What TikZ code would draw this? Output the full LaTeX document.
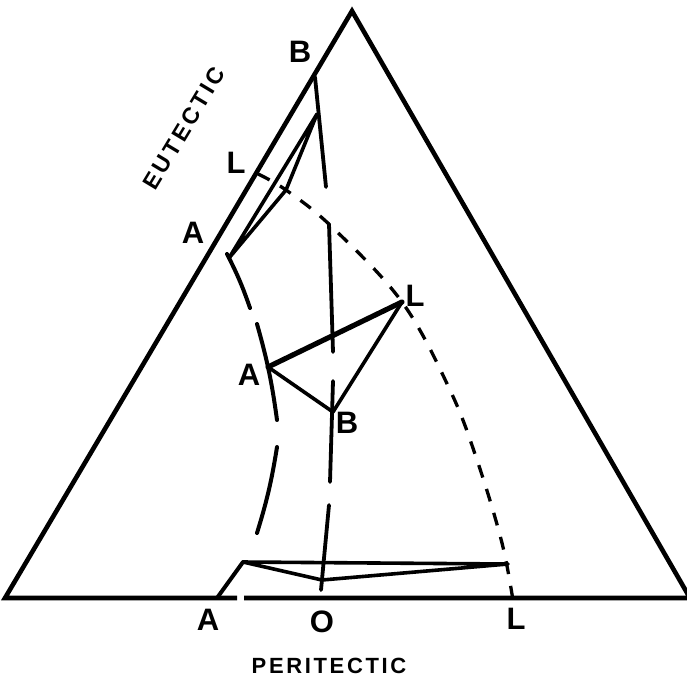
\documentclass[tikz,border=0pt]{standalone}
\usepackage{fontspec}
\setmainfont{Liberation Sans}
\usetikzlibrary{calc}
\tikzset{
  outline/.style={line width=4.6pt, line join=miter, draw=black},
  tieline/.style={line width=3.6pt, line cap=round, line join=round, draw=black},
  heavytie/.style={tieline, line width=5.2pt},
  acurve/.style={line width=4pt, line cap=round, draw=black},
  bcurve/.style={line width=3.8pt, line cap=round, draw=black},
  lcurve/.style={line width=3.3pt, dash pattern=on 13pt off 12pt, draw=black},
  ptlabel/.style={font=\bfseries\fontsize{31}{31}\selectfont, inner sep=0pt},
  edgelabel/.style={font=\bfseries\fontsize{22}{22}\selectfont, inner sep=0pt},
}

\begin{document}
\begin{tikzpicture}[x=1pt, y=-1pt]
  \useasboundingbox (0,0) rectangle (687,678);

  % ----------------------------------------------------------------
  % Ternary triangle (small gap in the base near A)
  % ----------------------------------------------------------------
  \coordinate (apex)     at (352,11);
  \coordinate (corner-l) at (5,598);
  \coordinate (corner-r) at (690,598);
  \coordinate (gap-l)    at (237,598);
  \coordinate (gap-r)    at (244,598);
  \draw[outline] (gap-r) -- (corner-r) -- (apex) -- (corner-l) -- (gap-l);

  % ----------------------------------------------------------------
  % Tie triangles
  % ----------------------------------------------------------------
  \coordinate (top-b) at (317,114);
  \coordinate (top-l) at (286,190);
  \coordinate (top-a) at (229,258);
  \draw[tieline] (top-b) -- (top-a) -- (top-l) -- cycle;

  \coordinate (mid-a) at (268,367);
  \coordinate (mid-l) at (402,302);
  \coordinate (mid-b) at (333,412);
  \draw[heavytie] (mid-a) -- (mid-l);
  \draw[tieline] (mid-l) -- (mid-b) -- (mid-a);

  \coordinate (bot-a) at (243,562);
  \coordinate (bot-l) at (508,564);
  \coordinate (bot-o) at (322,580);
  \draw[tieline] (bot-a) -- (bot-l) -- (bot-o) -- cycle;

  % ----------------------------------------------------------------
  % A path (long dashes, drawn piece by piece)
  % ----------------------------------------------------------------
  \coordinate (base-a) at (217,598);
  \draw[acurve] (227,254) to[bend left=4] (250,308);
  \draw[acurve] (257,324) to[bend left=4] (277,420);
  \draw[acurve] (277,447) to[bend left=4] (257,533);
  \draw[acurve] (bot-a) -- (base-a);

  % ----------------------------------------------------------------
  % B / O path (long dashes)
  % ----------------------------------------------------------------
  \coordinate (edge-b) at (315,77);
  \coordinate (base-o) at (321,590);
  \draw[bcurve] (edge-b) -- (326,187);
  \draw[bcurve] (329,224) -- (333,352);
  \draw[bcurve] (333,381) -- (330,482);
  \draw[bcurve] (329,505) -- (base-o);

  % ----------------------------------------------------------------
  % L path (short dashes)
  % ----------------------------------------------------------------
  \coordinate (edge-l) at (258,174);
  \coordinate (base-l) at (514,607);
  \draw[lcurve] plot[smooth, tension=0.6] coordinates
    {(edge-l) (top-l) (332,227) (mid-l) (450,390) (477,460) (502,543) (base-l)};

  % ----------------------------------------------------------------
  % Labels
  % ----------------------------------------------------------------
  \node[ptlabel] (lab-top-b) at (300,52)  {B};
  \node[ptlabel] (lab-top-l) at (236,163) {L};
  \node[ptlabel] (lab-top-a) at (193,233) {A};
  \node[ptlabel] (lab-mid-a) at (249,375) {A};
  \node[ptlabel] (lab-mid-l) at (415,296) {L};
  \node[ptlabel] (lab-mid-b) at (347,423) {B};
  \node[ptlabel] (lab-bot-a) at (208,620) {A};
  \node[ptlabel] (lab-bot-o) at (322,622) {O};
  \node[ptlabel] (lab-bot-l) at (516,619) {L};

  \node[edgelabel, rotate=59, font=\bfseries\fontsize{23}{23}\selectfont]
    (eutectic) at (184,128) {\addfontfeature{LetterSpace=14}EUTECTIC};
  \node[edgelabel] (peritectic) at (329,666)
    {\addfontfeature{LetterSpace=12}PERITECTIC};

\end{tikzpicture}
\end{document}
